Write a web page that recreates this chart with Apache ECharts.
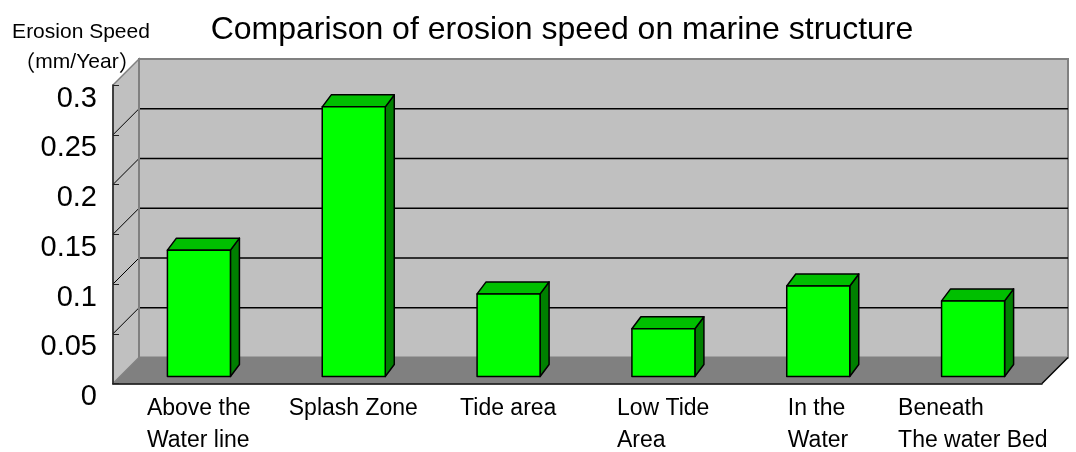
<!DOCTYPE html>
<html>
<head>
<meta charset="utf-8">
<script src="https://cdn.jsdelivr.net/npm/echarts@6/dist/echarts.min.js"></script>
<style>
  html, body { margin: 0; padding: 0; background: #fff; }
  #chart { width: 1076px; height: 452px; }
</style>
</head>
<body>
<div id="chart"></div>
<script>
// data
const categories = [
  "Above the\nWater line",
  "Splash Zone",
  "Tide area",
  "Low Tide\nArea",
  "In the\nWater",
  "Beneath\nThe water Bed",
];
const erosionSpeed = [0.127, 0.271, 0.083, 0.048, 0.091, 0.076];
const yTicks = [0, 0.05, 0.1, 0.15, 0.2, 0.25, 0.3];

const FONT = '"Liberation Sans", Arial, "Noto Sans CJK JP", sans-serif';
const CJK = '"Noto Sans CJK JP", sans-serif';
const DEPTH = 26;          // oblique offset of the back wall
const BAR_SHIFT = [8.5, -7]; // bar front face relative to front plane
const BAR_DEPTH = [9, -12];

const chart = echarts.init(document.getElementById("chart"));

// category labels: lines left aligned inside a centred block
const ctx = document.createElement("canvas").getContext("2d");
ctx.font = "23px " + FONT;
const catRich = {};
categories.forEach((c, i) => {
  const w = Math.max(...c.split("\n").map((s) => ctx.measureText(s).width));
  catRich["c" + i] = {
    width: Math.ceil(w) + 1,
    align: "left",
    padding: [0, 0, 0, 18],
    fontSize: 23,
    lineHeight: 32,
    color: "#000",
    fontFamily: FONT,
  };
});

// walls, floor and gridlines of the 3D box
const renderFrame = (params, api) => {
  const cs = params.coordSys;
  const L = cs.x, T = cs.y, R = cs.x + cs.width, B = cs.y + cs.height;
  const d = DEPTH;
  const children = [
    {
      type: "polygon",
      shape: { points: [[L, B], [L, T], [L + d, T - d], [L + d, B - d]] },
      style: { fill: "#C0C0C0", stroke: "#808080", lineWidth: 1.5 },
    },
    {
      type: "rect",
      shape: { x: L + d, y: T - d, width: cs.width, height: cs.height },
      style: { fill: "#C0C0C0", stroke: "#808080", lineWidth: 2 },
    },
  ];
  yTicks.forEach((v) => {
    if (v <= 0 || v >= 0.3) return;
    const y = api.coord([0, v])[1];
    children.push({
      type: "line",
      shape: { x1: L + d, y1: y - d, x2: R + d, y2: y - d },
      style: { stroke: "#000", lineWidth: 1.5 },
    });
    children.push({
      type: "line",
      shape: { x1: L, y1: y, x2: L + d, y2: y - d },
      style: { stroke: "#000", lineWidth: 1 },
    });
  });
  children.push({
    type: "polygon",
    shape: { points: [[L, B], [R, B], [R + d, B - d], [L + d, B - d]] },
    style: { fill: "#808080" },
  });
  children.push({
    type: "line",
    shape: { x1: R, y1: B, x2: R + d, y2: B - d },
    style: { stroke: "#000", lineWidth: 1.5 },
  });
  children.push({
    type: "line",
    shape: { x1: L + d, y1: T - d, x2: L + d, y2: B - d },
    style: { stroke: "#808080", lineWidth: 2 },
  });
  return { type: "group", children };
};

const renderBar = (params, api) => {
  const idx = api.value(0);
  const base = api.coord([idx, 0]);
  const top = api.coord([idx, api.value(1)]);
  const bw = api.size([1, 0])[0] * 0.407;
  const x0 = base[0] - bw / 2 + BAR_SHIFT[0];
  const x1 = x0 + bw;
  const yb = base[1] + BAR_SHIFT[1];
  const yt = top[1] + BAR_SHIFT[1];
  const [dx, dy] = BAR_DEPTH;
  const edge = { stroke: "#000", lineWidth: 1.5, lineJoin: "round" };
  return {
    type: "group",
    children: [
      {
        type: "polygon",
        shape: { points: [[x1, yt], [x1 + dx, yt + dy], [x1 + dx, yb + dy], [x1, yb]] },
        style: Object.assign({ fill: "#008000" }, edge),
      },
      {
        type: "polygon",
        shape: { points: [[x0, yt], [x0 + dx, yt + dy], [x1 + dx, yt + dy], [x1, yt]] },
        style: Object.assign({ fill: "#00BF00" }, edge),
      },
      {
        type: "rect",
        shape: { x: x0, y: yt, width: bw, height: yb - yt },
        style: Object.assign({ fill: "#00FF00" }, edge),
      },
    ],
  };
};

const option = {
  animation: false,
  graphic: [
    {
      type: "text",
      x: 562,
      y: 30,
      style: {
        text: "Comparison of erosion speed on marine structure",
        font: "32px " + FONT,
        fill: "#000",
        textAlign: "center",
        textVerticalAlign: "middle",
      },
    },
    {
      type: "text",
      x: 81,
      y: 32,
      style: {
        text: "Erosion Speed",
        font: "21px " + FONT,
        fill: "#000",
        textAlign: "center",
        textVerticalAlign: "middle",
      },
    },
    {
      type: "text",
      x: 77,
      y: 62,
      style: {
        text: "{p|（}{t|mm/Year}{p|）}",
        fill: "#000",
        textAlign: "center",
        textVerticalAlign: "middle",
        rich: {
          p: { fontFamily: CJK, fontSize: 22, fill: "#000" },
          t: { fontFamily: FONT, fontSize: 21, fill: "#000" },
        },
      },
    },
  ],
  grid: { left: 113, top: 85, width: 929, height: 300 },
  xAxis: {
    type: "category",
    data: categories,
    z: 5,
    axisLine: { lineStyle: { color: "#000", width: 1.5 } },
    axisTick: { inside: true, length: 4, lineStyle: { color: "#000" } },
    axisLabel: {
      interval: 0,
      margin: 9,
      verticalAlign: "top",
      formatter: (v, i) => v.split("\n").map((s) => "{c" + i + "|" + s + "}").join("\n"),
      rich: catRich,
    },
    splitLine: { show: false },
  },
  yAxis: {
    type: "value",
    min: 0,
    max: 0.3,
    interval: 0.05,
    z: 5,
    axisLine: { show: true, lineStyle: { color: "#222", width: 1.5 } },
    axisTick: { show: true, inside: true, length: 6, lineStyle: { color: "#222" } },
    axisLabel: {
      color: "#000",
      fontSize: 29,
      fontFamily: FONT,
      margin: 16,
      verticalAlign: "top",
      lineHeight: 27,
      formatter: (v) => String(+v.toFixed(2)),
    },
    splitLine: { show: false },
  },
  series: [
    {
      type: "custom",
      name: "frame",
      silent: true,
      z: -1,
      renderItem: renderFrame,
      data: [[0, 0]],
    },
    {
      type: "custom",
      name: "Erosion Speed",
      z: 10,
      renderItem: renderBar,
      encode: { x: 0, y: 1 },
      data: erosionSpeed.map((v, i) => [i, v]),
    },
  ],
};

chart.setOption(option);
</script>
</body>
</html>
